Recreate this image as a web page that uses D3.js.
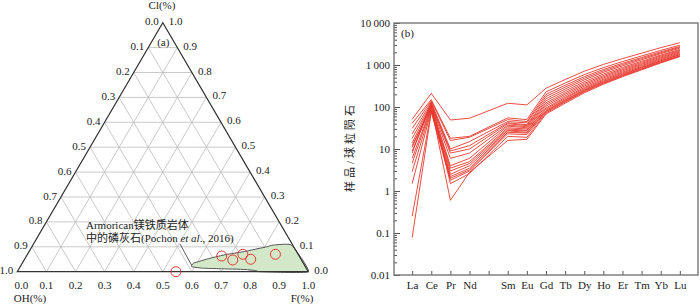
<!DOCTYPE html>
<html>
<head>
<meta charset="utf-8">
<script src="https://cdn.jsdelivr.net/npm/d3@7"></script>
<style>
  body { margin: 0; background: #fff; }
  text { font-family: "Liberation Serif", "Times New Roman", serif; font-size: 11px; fill: #222; }
  .cjk { font-family: "Liberation Serif", "Noto Sans CJK SC", serif; }
</style>
</head>
<body>
<svg id="chart" width="700" height="306"></svg>
<script>
// ---- (a) ternary Cl-OH-F ----
const ternTicks = [0, 0.1, 0.2, 0.3, 0.4, 0.5, 0.6, 0.7, 0.8, 0.9, 1.0];
const ternTickLabels = ['0.0', '0.1', '0.2', '0.3', '0.4', '0.5', '0.6', '0.7', '0.8', '0.9', '1.0'];

// apatite samples (F and Cl fractions, OH = 1 - F - Cl)
const sampleF = [0.545, 0.671, 0.717, 0.740, 0.777, 0.852];
const sampleCl = [0.000, 0.063, 0.047, 0.070, 0.050, 0.070];

// Armorican field outline (Pochon et al., 2016)
const fieldF = [0.589, 0.588, 0.635, 0.683, 0.736, 0.807, 0.826, 0.889, 1.000, 0.834, 0.820, 0.778, 0.690, 0.632];
const fieldCl = [0.020, 0.034, 0.054, 0.069, 0.080, 0.100, 0.107, 0.107, 0.000, 0.000, 0.004, 0.009, 0.012, 0.014];

// ---- (b) chondrite-normalised REE ----
const elements = ['La', 'Ce', 'Pr', 'Nd', 'Pm', 'Sm', 'Eu', 'Gd', 'Tb', 'Dy', 'Ho', 'Er', 'Tm', 'Yb', 'Lu'];
const elementLabels = ['La', 'Ce', 'Pr', 'Nd', '', 'Sm', 'Eu', 'Gd', 'Tb', 'Dy', 'Ho', 'Er', 'Tm', 'Yb', 'Lu'];
const reeElements = ['La', 'Ce', 'Pr', 'Nd', 'Sm', 'Eu', 'Gd', 'Tb', 'Dy', 'Ho', 'Er', 'Tm', 'Yb', 'Lu'];

const s01 = [51, 212, 49, 54, 123, 112, 280, 450, 710, 1030, 1420, 1910, 2580, 3390];
const s02 = [41, 150, 18, 20, 55, 50, 229, 372, 590, 865, 1208, 1640, 2228, 2950];
const s03 = [31, 140, 16, 19, 50, 45, 200, 329, 527, 781, 1099, 1507, 2065, 2754];
const s04 = [23, 130, 10, 15, 45, 42, 178, 297, 482, 722, 1025, 1416, 1955, 2630];
const s05 = [18, 120, 9, 12, 42, 38, 158, 268, 441, 667, 955, 1330, 1854, 2512];
const s06 = [14, 115, 8, 10, 40, 36, 141, 241, 399, 608, 877, 1228, 1722, 2344];
const s07 = [11, 110, 6, 8, 37, 34, 126, 218, 365, 562, 818, 1155, 1632, 2239];
const s08 = [9, 105, 4, 6, 35, 32, 115, 200, 339, 525, 769, 1091, 1549, 2138];
const s09 = [6, 100, 3.5, 5, 32, 30, 105, 184, 314, 491, 722, 1030, 1472, 2042];
const s10 = [4.6, 95, 3, 4.5, 30, 28, 95, 169, 292, 458, 679, 975, 1400, 1950];
const s11 = [2.9, 90, 2.5, 4, 28, 27, 89, 159, 274, 433, 643, 925, 1334, 1862];
const s12 = [1.5, 85, 2.2, 3.5, 27, 25, 83, 149, 258, 409, 609, 879, 1271, 1778];
const s13 = [0.25, 80, 2, 3.2, 25, 24, 79, 143, 249, 395, 590, 855, 1239, 1738];
const s14 = [0.078, 75, 1.8, 3, 23, 22, 76, 136, 238, 378, 564, 817, 1183, 1660];
const s15 = [8, 130, 1.5, 2.6, 20, 19, 72, 131, 229, 365, 547, 794, 1153, 1622];
const s16 = [12, 100, 0.6, 2.8, 16, 17, 68, 123, 217, 348, 526, 767, 1119, 1585];
const samples = [s01, s02, s03, s04, s05, s06, s07, s08, s09, s10, s11, s12, s13, s14, s15, s16];

const yTicks = [0.01, 0.1, 1, 10, 100, 1000, 10000];
const yTickLabels = ['0.01', '0.1', '1', '10', '100', '1\u2009000', '10\u2009000'];

const svg = d3.select('#chart');

// ================= ternary =================
const tern = svg.append('g');
const tx = d3.scaleLinear().domain([0, 1]).range([17.3, 308.3]);
const ty = d3.scaleLinear().domain([0, 1]).range([271.7, 22.7]);
const pt = (f, cl) => [tx(f + cl / 2), ty(cl)];

// grid
const inner = ternTicks.slice(1, -1);
const gridSegs = [];
inner.forEach(t => {
	gridSegs.push([pt(0, t), pt(1 - t, t)]);       // constant Cl
	gridSegs.push([pt(t, 0), pt(t, 1 - t)]);       // constant F
	gridSegs.push([pt(1 - t, 0), pt(0, 1 - t)]);   // constant OH
});
tern.selectAll('.grid')
	.data(gridSegs)
	.enter().append('line')
	.attr('class', 'grid')
	.attr('x1', d => d[0][0]).attr('y1', d => d[0][1])
	.attr('x2', d => d[1][0]).attr('y2', d => d[1][1])
	.attr('stroke', '#bdbdbd')
	.attr('stroke-width', 0.8);

// field
const field = fieldF.map((f, i) => pt(f, fieldCl[i]));
tern.append('path')
	.attr('d', d3.line().curve(d3.curveCardinalClosed.tension(0.6))(field))
	.attr('fill', '#d3e8c8')
	.attr('stroke', '#555')
	.attr('stroke-width', 1);

// outline
tern.append('path')
	.attr('d', d3.line()([pt(0, 0), pt(1, 0), pt(0, 1)]) + 'Z')
	.attr('fill', 'none')
	.attr('stroke', '#333')
	.attr('stroke-width', 1.2);

// leader + annotation
tern.append('line')
	.attr('x1', 180).attr('y1', 244)
	.attr('x2', 191.5).attr('y2', 265)
	.attr('stroke', '#333').attr('stroke-width', 0.8);
const ann = tern.append('text').attr('class', 'cjk').attr('x', 86).attr('y', 229).attr('fill', '#333');
ann.append('tspan').text('Armorican镁铁质岩体');
const ann2 = tern.append('text').attr('class', 'cjk').attr('x', 86).attr('y', 242);
ann2.append('tspan').text('中的磷灰石(Pochon ');
ann2.append('tspan').attr('font-style', 'italic').text('et al');
ann2.append('tspan').text('., 2016)');

// samples
tern.selectAll('.smp')
	.data(sampleF.map((f, i) => pt(f, sampleCl[i])))
	.enter().append('circle')
	.attr('class', 'smp')
	.attr('cx', d => d[0]).attr('cy', d => d[1])
	.attr('r', 5)
	.attr('fill', 'none')
	.attr('stroke', '#e53a2f')
	.attr('stroke-width', 1);

// tick labels: left side (OH), right side (Cl), bottom (F)
tern.selectAll('.lt')
	.data(ternTicks)
	.enter().append('text')
	.attr('x', d => pt(0, 1 - d)[0] - 4)
	.attr('y', d => pt(0, 1 - d)[1] + 2.5)
	.attr('text-anchor', 'end')
	.text((d, i) => ternTickLabels[i]);
tern.selectAll('.rt')
	.data(ternTicks)
	.enter().append('text')
	.attr('x', d => pt(1 - d, d)[0] + 6)
	.attr('y', d => pt(1 - d, d)[1] + 2)
	.attr('text-anchor', 'start')
	.text((d, i) => ternTickLabels[i]);
tern.selectAll('.bt')
	.data(ternTicks)
	.enter().append('text')
	.attr('x', d => pt(d, 0)[0] + (d === 0 ? 4 : 0))
	.attr('y', 289)
	.attr('text-anchor', 'middle')
	.text((d, i) => ternTickLabels[i]);

tern.append('text').attr('x', 162).attr('y', 9).attr('text-anchor', 'middle').text('Cl(%)');
tern.append('text').attr('x', 163.3).attr('y', 45.5).attr('text-anchor', 'middle').text('(a)');
tern.append('text').attr('x', 30).attr('y', 302).attr('text-anchor', 'middle').text('OH(%)');
tern.append('text').attr('x', 302).attr('y', 302).attr('text-anchor', 'middle').text('F(%)');

// ================= REE spider =================
const plotL = 394, plotR = 698, plotT = 23, plotB = 275;
const x = d3.scalePoint().domain(elements).range([plotL, plotR]).padding(0.95);
const y = d3.scaleLog().domain([0.01, 10000]).range([plotB, plotT]);

const ree = svg.append('g');

const minor = [];
yTicks.slice(0, -1).forEach(t => {
	for (let k = 2; k <= 9; k++) minor.push(t * k);
});

ree.append('g')
	.attr('transform', 'translate(' + plotL + ',0)')
	.call(d3.axisLeft(y).tickValues(minor).tickSize(-3).tickFormat(''))
	.call(g => g.select('.domain').remove())
	.call(g => g.selectAll('line').attr('stroke', '#555'));

ree.append('g')
	.attr('transform', 'translate(' + plotL + ',0)')
	.call(d3.axisLeft(y).tickValues(yTicks).tickSize(-6).tickPadding(4)
		.tickFormat((d, i) => yTickLabels[i]))
	.call(g => g.select('.domain').remove())
	.call(g => g.selectAll('line').attr('stroke', '#555'))
	.call(g => g.selectAll('text')
		.attr('font-family', '"Liberation Serif", serif')
		.attr('font-size', 11)
		.attr('fill', '#222'));

ree.append('g')
	.attr('transform', 'translate(0,' + plotB + ')')
	.call(d3.axisBottom(x).tickSize(-4).tickPadding(6)
		.tickFormat((d, i) => elementLabels[i]))
	.call(g => g.select('.domain').remove())
	.call(g => g.selectAll('line').attr('stroke', '#555'))
	.call(g => g.selectAll('text')
		.attr('font-family', '"Liberation Serif", serif')
		.attr('font-size', 11)
		.attr('fill', '#222'));

const line = d3.line()
	.x((d, i) => x(reeElements[i]))
	.y(d => y(d));

ree.selectAll('.ree')
	.data(samples)
	.enter().append('path')
	.attr('class', 'ree')
	.attr('d', d => line(d))
	.attr('fill', 'none')
	.attr('stroke', '#e8392e')
	.attr('stroke-width', 0.9);

ree.append('rect')
	.attr('x', plotL).attr('y', plotT)
	.attr('width', plotR - plotL).attr('height', plotB - plotT)
	.attr('fill', 'none')
	.attr('stroke', '#777')
	.attr('stroke-width', 1.4);

ree.append('text').attr('x', 401).attr('y', 37).text('(b)');
ree.append('text')
	.attr('class', 'cjk')
	.attr('transform', 'translate(354,147) rotate(-90)')
	.attr('text-anchor', 'middle')
	.attr('font-size', 12)
	.attr('letter-spacing', 3)
	.attr('fill', '#555')
	.text('样品/球粒陨石');
</script>
</body>
</html>
